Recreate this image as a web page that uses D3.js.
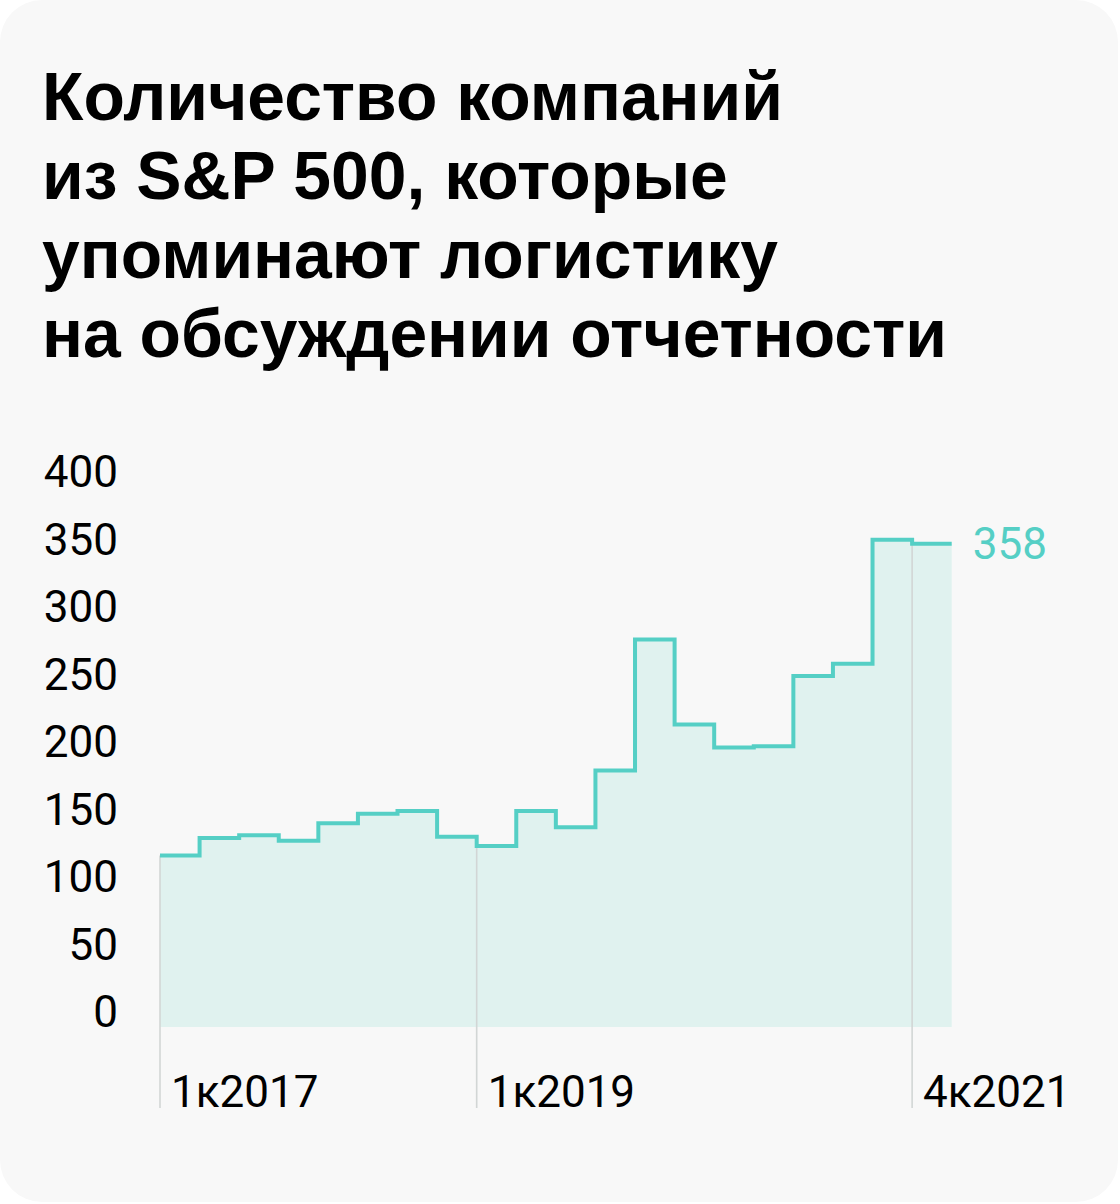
<!DOCTYPE html>
<html>
<head>
<meta charset="utf-8">
<script src="https://cdn.jsdelivr.net/npm/d3@7"></script>
<style>
  html, body { margin: 0; padding: 0; background: #ffffff; }
  svg { display: block; }
</style>
</head>
<body>
<svg id="chart" width="1120" height="1204"></svg>
<script>
// ---- data ----
const titleLines = [
  "Количество компаний",
  "из S&P 500, которые",
  "упоминают логистику",
  "на обсуждении отчетности"
];
const quarters = [
  "1к2017","2к2017","3к2017","4к2017",
  "1к2018","2к2018","3к2018","4к2018",
  "1к2019","2к2019","3к2019","4к2019",
  "1к2020","2к2020","3к2020","4к2020",
  "1к2021","2к2021","3к2021","4к2021"
];
const counts = [127, 140, 142, 138, 151, 158, 160, 141, 134, 160, 148, 190, 287, 224, 207, 208, 260, 269, 361, 358];
const yTicks = [0, 50, 100, 150, 200, 250, 300, 350, 400];
const labelledQuarters = ["1к2017", "1к2019", "4к2021"];

// ---- layout ----
const W = 1120, H = 1204;
const svg = d3.select("#chart");
const teal = "#55cfc5";
const fillCol = "#e0f2ef";
const gridCol = "#d2d6d5";

svg.append("rect").attr("x", 0).attr("y", 0).attr("width", 1118).attr("height", 1202)
  .attr("rx", 42).attr("ry", 42).attr("fill", "#f8f8f8");

// title
const tFont = "'Liberation Sans', Arial, sans-serif";
const title = svg.append("text")
  .attr("font-family", tFont).attr("font-weight", 700)
  .attr("font-size", 70).attr("fill", "#000");
title.selectAll("tspan").data(titleLines).join("tspan")
  .attr("x", 42).attr("y", (d, i) => 120 + i * 79).text(d => d);
// fit first line to reference width
const first = title.select("tspan").node();
const len = first.getComputedTextLength();
title.attr("font-size", 70 * 741 / len);

// scales
const x = d3.scaleLinear().domain([0, quarters.length]).range([160, 951.7]);
const y = d3.scaleLinear().domain([0, 400]).range([1027, 487]);

const pts = counts.map((v, i) => [i, v]);
pts.push([quarters.length, counts[counts.length - 1]]);

// area
const area = d3.area().curve(d3.curveStepAfter)
  .x(d => x(d[0])).y0(y(0)).y1(d => y(d[1]));
svg.append("path").datum(pts).attr("d", area).attr("fill", fillCol);

// vertical gridlines for labelled quarters
const axFont = "Roboto, 'Noto Sans', sans-serif";
labelledQuarters.forEach(q => {
  const i = quarters.indexOf(q);
  svg.append("line")
    .attr("x1", x(i)).attr("x2", x(i))
    .attr("y1", y(counts[i])).attr("y2", 1108)
    .attr("stroke", gridCol).attr("stroke-width", 1.6);
  svg.append("text")
    .attr("x", x(i) + 11).attr("y", 1107)
    .attr("font-family", axFont).attr("font-size", 44).attr("fill", "#000")
    .text(q);
});

// line
const line = d3.line().curve(d3.curveStepAfter)
  .x(d => x(d[0])).y(d => y(d[1]));
svg.append("path").datum(pts).attr("d", line)
  .attr("fill", "none").attr("stroke", teal).attr("stroke-width", 4)
  .attr("stroke-linejoin", "miter");

// y axis labels
svg.append("g").selectAll("text").data(yTicks).join("text")
  .attr("x", 118).attr("y", d => y(d))
  .attr("text-anchor", "end")
  .attr("font-family", axFont).attr("font-size", 44).attr("fill", "#000")
  .text(d => d);

// end label
const lastV = counts[counts.length - 1];
svg.append("text")
  .attr("x", x(quarters.length) + 21).attr("y", y(lastV) + 15)
  .attr("font-family", axFont).attr("font-size", 44).attr("fill", teal)
  .text(lastV);
</script>
</body>
</html>
